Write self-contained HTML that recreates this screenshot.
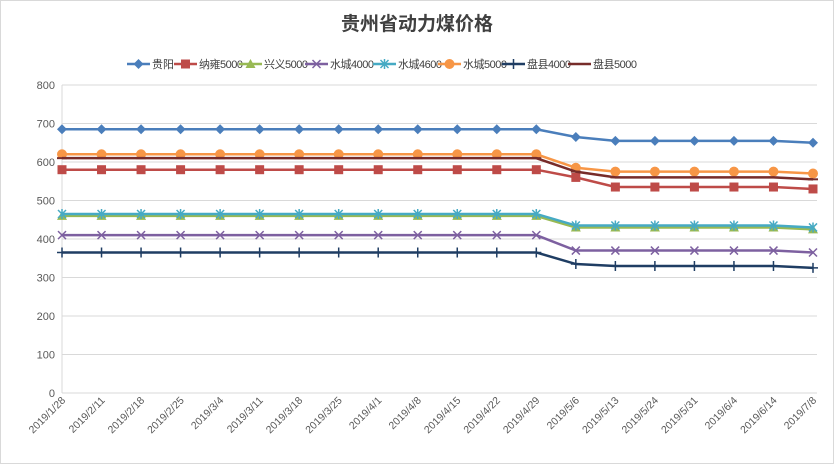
<!DOCTYPE html>
<html><head><meta charset="utf-8"><style>
body{margin:0;background:#fff;}
svg{display:block;font-family:"Liberation Sans","Noto Sans CJK SC",sans-serif;}
</style></head><body>
<svg id="c" width="834" height="464">
<rect x="0.5" y="0.5" width="833" height="463" fill="#fff" stroke="#d9d9d9"/>
<text x="417" y="30" text-anchor="middle" font-size="19" font-weight="bold" fill="#404040">贵州省动力煤价格</text>
</svg>
<script>
const categories=["2019/1/28","2019/2/11","2019/2/18","2019/2/25","2019/3/4","2019/3/11","2019/3/18","2019/3/25","2019/4/1","2019/4/8","2019/4/15","2019/4/22","2019/4/29","2019/5/6","2019/5/13","2019/5/24","2019/5/31","2019/6/4","2019/6/14","2019/7/8"];
const yTicks=[0,100,200,300,400,500,600,700,800];
const seriesNames=["贵阳","纳雍5000","兴义5000","水城4000","水城4600","水城5000","盘县4000","盘县5000"];
const guiyang=[685,685,685,685,685,685,685,685,685,685,685,685,685,665,655,655,655,655,655,650];
const nayong5000=[580,580,580,580,580,580,580,580,580,580,580,580,580,560,535,535,535,535,535,530];
const xingyi5000=[460,460,460,460,460,460,460,460,460,460,460,460,460,430,430,430,430,430,430,425];
const shuicheng4000=[410,410,410,410,410,410,410,410,410,410,410,410,410,370,370,370,370,370,370,365];
const shuicheng4600=[465,465,465,465,465,465,465,465,465,465,465,465,465,435,435,435,435,435,435,430];
const shuicheng5000=[620,620,620,620,620,620,620,620,620,620,620,620,620,585,575,575,575,575,575,570];
const panxian4000=[365,365,365,365,365,365,365,365,365,365,365,365,365,335,330,330,330,330,330,325];
const panxian5000=[610,610,610,610,610,610,610,610,610,610,610,610,610,575,560,560,560,560,560,555];
const allData=[guiyang,nayong5000,xingyi5000,shuicheng4000,shuicheng4600,shuicheng5000,panxian4000,panxian5000];
const colors=["#4a7ebb","#be4b48","#98b954","#7d60a0","#46aac4","#f79646","#1f3d63","#772c2a"];
const markers=["diamond","square","triangle","x","star","circle","plus","dash"];
const NS="http://www.w3.org/2000/svg";
const svg=document.getElementById("c");
const X0=62,X1=813,Y0=393,Y1=85;
function xs(i){return X0+(X1-X0)*i/(categories.length-1);}
function ys(v){return Y0-(Y0-Y1)*v/800;}
function mk(t,a,p){const e=document.createElementNS(NS,t);for(const k in a)e.setAttribute(k,a[k]);(p||svg).appendChild(e);return e;}
yTicks.forEach(v=>{
 const g=mk("line",{x1:X0,x2:X1+4,y1:ys(v),y2:ys(v),stroke:"#d9d9d9"});
 
 
 const t=mk("text",{x:X0-7,y:ys(v)+4,"text-anchor":"end","font-size":"11",fill:"#595959"});
 t.textContent=v;
 
 
});
const ax=mk("line",{x1:X0,x2:X0,y1:Y1,y2:Y0,stroke:"#d9d9d9"});


categories.forEach((c,i)=>{
 const t=mk("text",{transform:`translate(${xs(i)+4},${Y0+8}) rotate(-45)`,"text-anchor":"end","font-size":"10.5",fill:"#595959"});
 t.textContent=c;
 
 
});
function marker(type,x,y,col,g){
 let e;
 if(type==="diamond")e=mk("polygon",{points:`${x},${y-5} ${x+5},${y} ${x},${y+5} ${x-5},${y}`,fill:col},g);
 else if(type==="square")e=mk("rect",{x:x-4.5,y:y-4.5,width:9,height:9,fill:col},g);
 else if(type==="triangle")e=mk("polygon",{points:`${x},${y-5} ${x+5},${y+4} ${x-5},${y+4}`,fill:col},g);
 else if(type==="x")e=mk("path",{d:`M${x-4},${y-4}L${x+4},${y+4}M${x-4},${y+4}L${x+4},${y-4}`,stroke:col,"stroke-width":1.5},g);
 else if(type==="star")e=mk("path",{d:`M${x-4},${y-4}L${x+4},${y+4}M${x-4},${y+4}L${x+4},${y-4}M${x},${y-5}V${y+5}`,stroke:col,"stroke-width":1.5},g);
 else if(type==="circle")e=mk("circle",{cx:x,cy:y,r:5,fill:col},g);
 else if(type==="plus")e=mk("path",{d:`M${x-5},${y}H${x+5}M${x},${y-5}V${y+5}`,stroke:col,"stroke-width":1.5},g);
 else e=mk("path",{d:`M${x-5},${y}H${x+5}`,stroke:col,"stroke-width":2},g);
 return e;
}
allData.forEach((d,s)=>{
 const g=mk("g",{});
 
 
 const l=mk("polyline",{points:d.map((v,i)=>xs(i)+","+ys(v)).join(" "),fill:"none",stroke:colors[s],"stroke-width":2.5},g);
 
 
 d.forEach((v,i)=>{
  const m=marker(markers[s],xs(i),ys(v),colors[s],g);
  
  
 });
});
const legX=[127,174,239,305,373,438,502,568];
seriesNames.forEach((n,s)=>{
 const g=mk("g",{});
 
 
 const x=legX[s],y=64;
 mk("line",{x1:x,x2:x+23,y1:y,y2:y,stroke:colors[s],"stroke-width":2.5},g);
 marker(markers[s],x+11.5,y,colors[s],g);
 const t=mk("text",{x:x+25,y:y+4,"font-size":"11",fill:"#404040"},g);
 if(n.length>2)t.setAttribute("textLength",n.length>4?44:44);
 t.textContent=n;
});
</script>
</body></html>
